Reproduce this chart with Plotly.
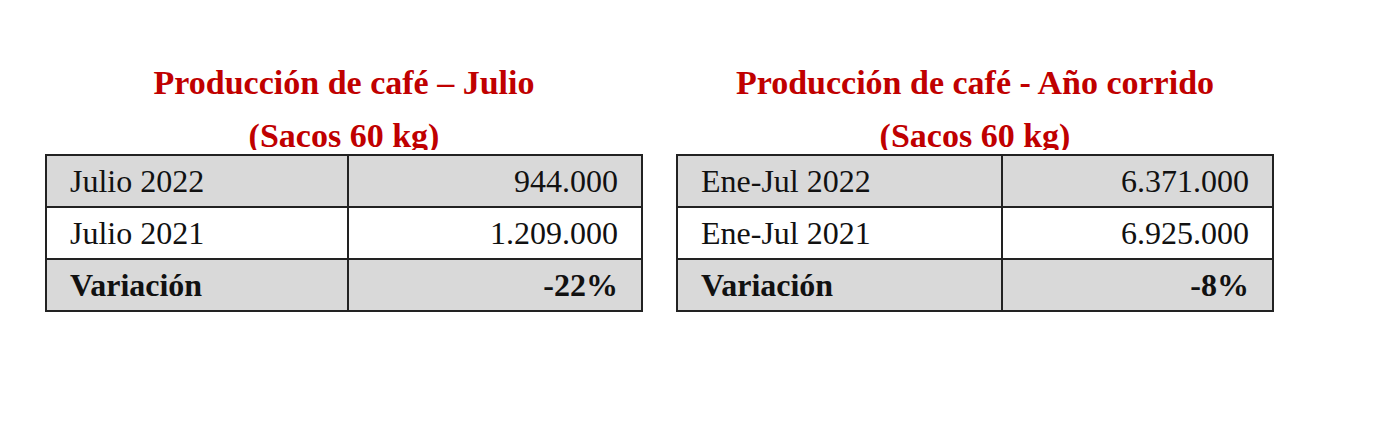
import plotly.graph_objects as go

titles_l1 = ["Producción de café – Julio", "Producción de café - Año corrido"]
titles_l2 = ["(Sacos 60 kg)", "(Sacos 60 kg)"]
left_labels = ["Julio 2022", "Julio 2021", "Variación"]
left_values = ["944.000", "1.209.000", "-22%"]
right_labels = ["Ene-Jul 2022", "Ene-Jul 2021", "Variación"]
right_values = ["6.371.000", "6.925.000", "-8%"]

W, H = 1373, 430
OFF = 8  # page body margin
FONT = "Liberation Serif"
fills = ["#D9D9D9", "#FFFFFF", "#D9D9D9"]
PAD = "&nbsp;" * 2

def px_x(v):
    return (v - OFF) / W

def px_y(v):
    return 1 - (v - OFF) / H

def make_table(labels, values, x0, x1, split):
    lab = [PAD + (f"<b>{l}</b>" if i == len(labels) - 1 else l) for i, l in enumerate(labels)]
    val = [(f"<b>{v}</b>" if i == len(values) - 1 else v) + PAD for i, v in enumerate(values)]
    return go.Table(
        domain=dict(x=[px_x(x0), px_x(x1)], y=[px_y(315), px_y(155)]),
        columnwidth=[split - x0, x1 - split],
        header=dict(values=[lab[0], val[0]], height=51, align=["left", "right"],
                    fill_color=fills[0], line=dict(color="#222", width=1.5),
                    font=dict(family=FONT, size=32, color="#111")),
        cells=dict(values=[lab[1:], val[1:]], height=51, align=["left", "right"],
                   fill_color=[fills[1:], fills[1:]], line=dict(color="#222", width=1.5),
                   font=dict(family=FONT, size=32, color="#111")),
    )

def make_title(l1, l2, x0, x1):
    return go.Table(
        domain=dict(x=[px_x(x0), px_x(x1)], y=[px_y(150), px_y(56)]),
        header=dict(values=[f"<b>{l1}</b>"], height=42, align="center",
                    fill_color="rgba(0,0,0,0)", line=dict(width=0, color="rgba(0,0,0,0)"),
                    font=dict(family=FONT, size=34, color="#C00000")),
        cells=dict(values=[[f"<b>{l2}</b>"]], height=42, align="center",
                   fill_color="rgba(0,0,0,0)", line=dict(width=0, color="rgba(0,0,0,0)"),
                   font=dict(family=FONT, size=34, color="#C00000")),
    )

fig = go.Figure([
    make_title(titles_l1[0], titles_l2[0], 46, 642),
    make_title(titles_l1[1], titles_l2[1], 677, 1273),
    make_table(left_labels, left_values, 46, 642, 348),
    make_table(right_labels, right_values, 677, 1273, 1002),
])
fig.update_layout(width=W, height=H, margin=dict(l=0, r=0, t=0, b=0),
                  paper_bgcolor="white", plot_bgcolor="white")
fig.write_html("out.html")
